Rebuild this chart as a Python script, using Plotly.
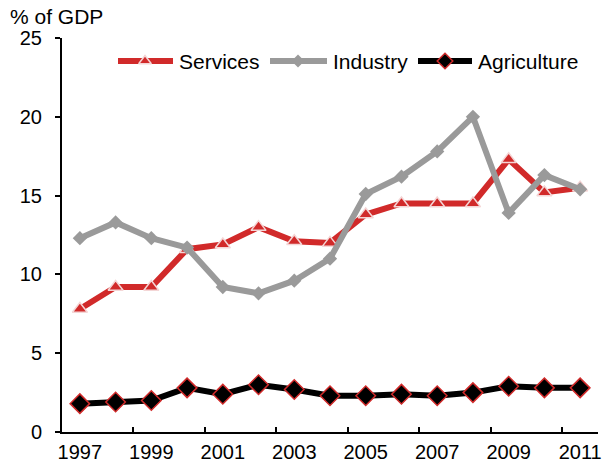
import plotly.graph_objects as go

years = list(range(1997, 2012))
services = [7.8, 9.2, 9.2, 11.6, 11.9, 13.0, 12.1, 12.0, 13.8, 14.5, 14.5, 14.5, 17.3, 15.2, 15.5]
industry = [12.3, 13.3, 12.3, 11.7, 9.2, 8.8, 9.6, 11.0, 15.1, 16.2, 17.8, 20.0, 13.9, 16.3, 15.4]
agriculture = [1.8, 1.9, 2.0, 2.8, 2.4, 3.0, 2.7, 2.3, 2.3, 2.4, 2.3, 2.5, 2.9, 2.8, 2.8]
year_labels = [str(y) for y in years[::2]]

RED = "#D12A2A"
GREY = "#9A9A9A"
BLACK = "#000000"
FONT = "Liberation Sans, Arial, sans-serif"

series = [
    dict(name="Services", y=services, line=RED,
         marker=dict(symbol="triangle-up", size=13, color=RED,
                     line=dict(color="#F4D6D6", width=1.5))),
    dict(name="Industry", y=industry, line=GREY,
         marker=dict(symbol="diamond", size=11, color=GREY,
                     line=dict(color=GREY, width=0))),
    dict(name="Agriculture", y=agriculture, line=BLACK,
         marker=dict(symbol="diamond", size=15, color=BLACK,
                     line=dict(color=RED, width=1.5))),
]

fig = go.Figure()
for s in series:
    fig.add_trace(go.Scatter(
        x=years, y=s["y"], name=s["name"], mode="lines+markers",
        line=dict(color=s["line"], width=6),
        marker=s["marker"], showlegend=False, cliponaxis=False,
    ))

# Legend drawn on a pixel-scaled overlay axis (plot area spans 62..598 x 38..432)
leg_y = 61
leg_items = [(118, 173, 145), (270, 327, 298), (418, 472, 445)]
leg_sizes = [11, 10, 12]
for s, (x0, x1, xm), ms in zip(series, leg_items, leg_sizes):
    fig.add_trace(go.Scatter(
        x=[x0, x1], y=[leg_y, leg_y], mode="lines", xaxis="x3", yaxis="y3",
        line=dict(color=s["line"], width=6), showlegend=False, hoverinfo="skip",
    ))
    m = dict(s["marker"])
    m["size"] = ms
    fig.add_trace(go.Scatter(
        x=[xm], y=[leg_y], mode="markers", xaxis="x3", yaxis="y3",
        marker=m, showlegend=False, hoverinfo="skip",
    ))
    fig.add_annotation(
        x=x1 + 4, y=leg_y, xref="x3", yref="y3", text=s["name"],
        showarrow=False, xanchor="left", yanchor="middle",
        font=dict(family=FONT, size=21, color="black"),
    )

fig.add_annotation(
    x=-0.101, y=1.055, xref="paper", yref="paper", text="% of GDP",
    showarrow=False, xanchor="left", yanchor="middle",
    font=dict(family=FONT, size=21, color="black"),
)

fig.update_layout(
    width=608, height=464,
    margin=dict(l=62, r=10, t=38, b=32),
    paper_bgcolor="white", plot_bgcolor="white",
    font=dict(family=FONT, size=20, color="black"),
    xaxis=dict(
        range=[1996.5, 2011.5], tickmode="array",
        tickvals=years[::2], ticktext=year_labels,
        ticks="", showgrid=False, zeroline=False, automargin=False,
        showline=True, linecolor="black", linewidth=2,
        ticklabelstandoff=1,
        minor=dict(tickmode="array", tickvals=[1998.5 + 2 * i for i in range(7)],
                   ticks="inside", ticklen=5, tickwidth=2, tickcolor="black",
                   showgrid=False),
    ),
    yaxis=dict(
        range=[0, 25], dtick=5, ticks="outside", ticklen=5, tickwidth=2,
        tickcolor="black", showgrid=False, zeroline=False, automargin=False,
        showline=True, linecolor="black", linewidth=2,
        ticklabelstandoff=9,
    ),
    xaxis3=dict(range=[62, 598], overlaying="x", visible=False, fixedrange=True),
    yaxis3=dict(range=[432, 38], overlaying="y", visible=False, fixedrange=True),
)

fig.write_html("out.html")
